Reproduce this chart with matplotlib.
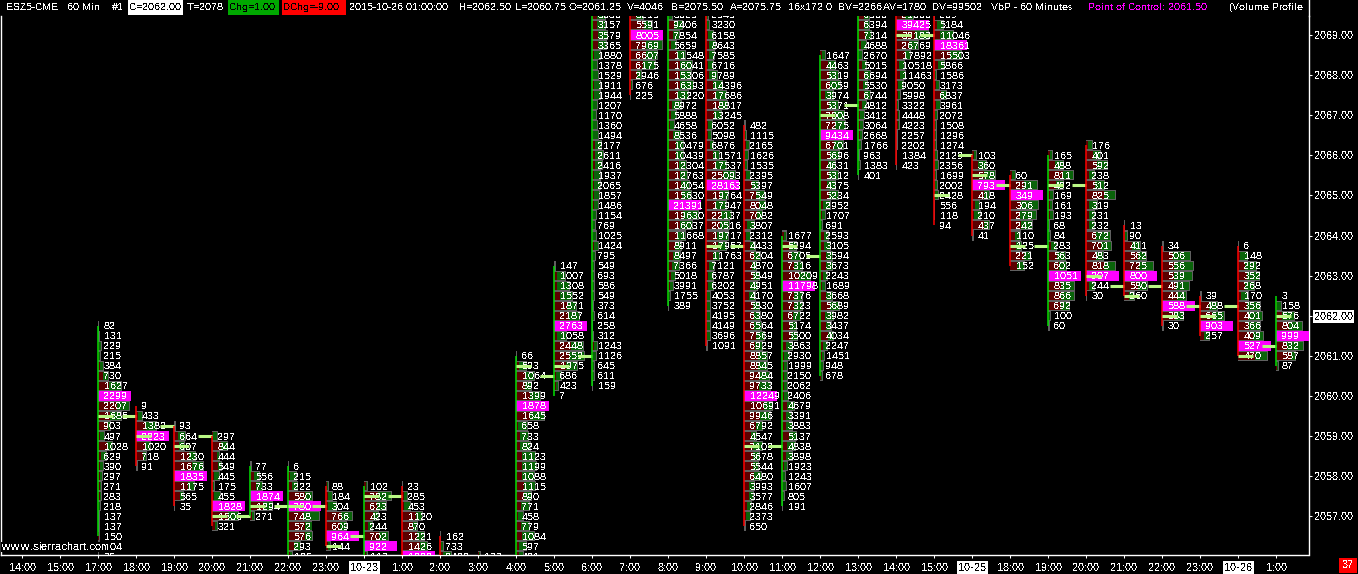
import matplotlib
matplotlib.use("Agg")
import matplotlib.pyplot as plt
from matplotlib.lines import Line2D
from matplotlib.patches import Rectangle

W, H = 1358, 574
PX_X = 38.0   # pixels per bar
PX_Y = 40.1   # pixels per point of price

bar_labels = ["14:00", "15:00", "17:00", "18:00", "19:00", "20:00", "21:00", "22:00", "23:00",
              "10-23", "1:00", "2:00", "3:00", "4:00", "5:00", "6:00", "7:00", "8:00", "9:00",
              "10:00", "11:00", "12:00", "13:00", "14:00", "15:00", "10-25", "18:00", "19:00",
              "20:00", "21:00", "22:00", "23:00", "10-26", "1:00"]
price_ticks = [2057, 2058, 2059, 2060, 2061, 2062, 2063, 2064, 2065, 2066, 2067, 2068, 2069]

# price of the first row of each bar
top_price = [None, None, 2061.75, 2059.75, 2059.25, 2059.0, 2058.25, 2058.25, 2057.75, 2057.75,
             2057.75, 2056.5, 2056.0, 2061.0, 2063.25, 2069.75, 2069.5, 2069.5, 2069.5, 2066.75,
             2064.0, 2068.5, 2069.75, 2069.5, 2069.5, 2066.0, 2065.5, 2066.0, 2066.25, 2064.25,
             2063.75, 2062.5, 2063.75, 2062.5]

# volume per price row, top to bottom, and the bid share of it in tenths
v02 = [82, 131, 229, 215, 384, 730, 1627, 2299, 2207, 1685, 903, 497, 1028, 629, 390, 297, 271, 283, 218, 137, 137, 150, 104, 35]
b02 = [5, 5, 5, 5, 3, 5, 5, 5, 6, 5, 8, 3, 6, 3, 3, 5, 5, 5, 5, 5, 5, 5, 5, 5]
v03 = [9, 433, 1382, 2223, 1020, 718, 91]
b03 = [5, 3, 5, 5, 6, 7, 5]
v04 = [93, 664, 607, 1230, 1676, 1835, 1175, 565, 35]
b04 = [5, 3, 5, 7, 6, 5, 7, 6, 5]
v05 = [297, 844, 444, 549, 445, 175, 455, 1828, 1506, 321]
b05 = [2, 6, 6, 6, 3, 5, 3, 5, 6, 5]
v06 = [77, 556, 733, 1874, 1294, 271]
b06 = [5, 4, 5, 5, 6, 5]
v07 = [6, 215, 222, 580, 780, 748, 572, 576, 293, 105]
b07 = [5, 2, 4, 7, 5, 5, 7, 7, 5, 5]
v08 = [88, 184, 304, 766, 609, 964, 144]
b08 = [5, 3, 2, 6, 7, 5, 5]
v09 = [102, 782, 623, 423, 244, 702, 922, 113]
b09 = [5, 5, 6, 6, 5, 6, 5, 5]
v10 = [23, 285, 453, 1120, 870, 1221, 1426, 1800]
b10 = [5, 3, 3, 7, 7, 7, 7, 5]
v11 = [162, 733, 2400, 6900]
b11 = [5, 3, 3, 5]
v12 = [133, 1500]
b12 = [5, 5]
v13 = [66, 593, 1064, 892, 1399, 1878, 1645, 658, 733, 824, 1123, 1199, 1088, 1115, 890, 771, 458, 779, 1084, 597, 421]
b13 = [5, 3, 5, 6, 6, 5, 5, 2, 3, 3, 3, 3, 3, 4, 5, 4, 3, 4, 3, 3, 5]
v14 = [147, 1007, 1308, 1552, 1871, 2187, 2763, 1058, 2448, 2559, 1975, 686, 423, 7]
b14 = [5, 2, 2, 3, 6, 6, 5, 2, 6, 5, 5, 2, 3, 5]
v15 = [7500, 3030, 3157, 3579, 3365, 1880, 1378, 1529, 1911, 1944, 1207, 1170, 1360, 1494, 2177, 2611, 2416, 1937, 2065,
       1857, 1486, 1154, 769, 1025, 1424, 795, 549, 693, 586, 549, 373, 614, 258, 312, 1243, 1126, 645, 611, 159]
b15 = [5, 4, 4, 4, 4, 2, 2, 2, 2, 2, 2, 2, 2, 2, 3, 3, 3, 2, 2,
       2, 3, 2, 2, 2, 3, 2, 3, 3, 3, 3, 3, 3, 3, 3, 3, 3, 3, 3, 3]
v16 = [3215, 5591, 8005, 7969, 6607, 6175, 2946, 676, 225]
b16 = [5, 6, 5, 5, 6, 5, 6, 3, 5]
v17 = [3025, 9406, 7854, 5659, 11548, 16041, 15306, 16393, 13220, 8972, 5888, 4658, 8536, 10479, 10439, 12304, 12763, 14054,
       15630, 21391, 19630, 16037, 11668, 8911, 8497, 7366, 5018, 3991, 1755, 389]
b17 = [3, 4, 4, 4, 5, 5, 5, 5, 5, 3, 3, 3, 4, 5, 5, 6, 6, 6,
       6, 5, 5, 5, 5, 5, 4, 4, 4, 4, 3, 5]
v18 = [2545, 3230, 6158, 8643, 7585, 6716, 9789, 14396, 17686, 18817, 13245, 6052, 5098, 6876, 11571, 17537, 25093, 28163,
       19764, 17947, 22137, 20516, 19717, 17957, 11763, 7121, 6787, 6202, 4053, 3752, 4195, 4149, 3696, 1091]
b18 = [5, 3, 3, 3, 3, 3, 3, 4, 5, 6, 5, 2, 4, 5, 5, 5, 6, 5,
       6, 5, 6, 6, 5, 6, 5, 4, 3, 3, 3, 3, 3, 3, 3, 5]
v19 = [482, 1115, 2165, 1626, 1535, 2395, 5397, 7549, 8048, 7082, 3807, 2312, 4433, 6204, 4870, 5849, 4951, 4170, 5830, 6380,
       6564, 7569, 6929, 8857, 8845, 9484, 9733, 12249, 10691, 9946, 6792, 4547, 7109, 5678, 5544, 6480, 3993, 3577, 2846, 2373, 650]
b19 = [5, 5, 3, 3, 3, 3, 6, 6, 7, 7, 3, 3, 5, 6, 6, 6, 5, 5, 6, 6,
       6, 6, 6, 6, 6, 6, 6, 5, 7, 6, 7, 6, 5, 6, 6, 6, 5, 5, 4, 3, 5]
v20 = [1677, 5294, 6705, 7316, 10209, 11798, 7376, 7323, 6722, 5174, 5500, 3863, 2930, 1999, 2150, 2062, 2406, 4679, 3391,
       3883, 5137, 4838, 3898, 1923, 1243, 1607, 805, 191]
b20 = [4, 5, 5, 6, 6, 5, 6, 6, 6, 6, 6, 4, 3, 3, 3, 3, 3, 4, 4,
       4, 5, 4, 4, 3, 3, 3, 5, 5]
v21 = [1647, 4463, 5319, 6059, 3974, 5371, 7008, 7275, 9434, 6701, 5696, 4631, 5312, 4375, 5234, 2952, 1707, 691, 2593, 3105,
       3594, 3673, 2243, 1689, 3668, 5689, 3982, 3437, 4034, 2247, 1451, 948, 678]
b21 = [4, 5, 5, 5, 4, 5, 6, 6, 5, 6, 5, 5, 5, 5, 5, 3, 3, 5, 4, 4,
       5, 5, 4, 3, 5, 5, 4, 5, 6, 4, 3, 5, 5]
v22 = [18000, 6500, 6394, 7314, 4688, 2670, 5015, 6694, 5530, 6744, 4812, 3412, 3064, 2668, 1766, 963, 1383, 401]
b22 = [5, 5, 5, 5, 4, 3, 4, 5, 5, 5, 5, 3, 4, 4, 3, 5, 5, 5]
v23 = [21000, 39425, 39183, 26769, 17892, 10518, 11463, 9050, 5998, 3322, 4448, 4223, 2257, 2202, 1384, 423]
b23 = [5, 5, 6, 6, 6, 4, 4, 3, 4, 5, 5, 5, 5, 5, 5, 5]
v24 = [209, 5184, 11046, 18361, 15503, 5866, 1586, 3173, 6837, 3961, 2072, 1508, 1296, 1274, 2129, 2356, 1699, 2002, 2428, 556, 118, 94]
b24 = [5, 3, 3, 5, 6, 4, 3, 3, 6, 3, 3, 5, 5, 5, 3, 3, 3, 3, 3, 5, 5, 5]
v25 = [103, 360, 578, 793, 418, 194, 210, 437, 41]
b25 = [5, 4, 5, 5, 7, 4, 2, 7, 5]
v26 = [60, 291, 349, 306, 279, 242, 110, 125, 221, 152]
b26 = [3, 5, 5, 4, 4, 5, 5, 5, 7, 5]
v27 = [165, 488, 811, 492, 169, 161, 193, 68, 84, 283, 563, 602, 1051, 835, 866, 692, 100, 60]
b27 = [3, 5, 6, 5, 3, 3, 3, 5, 5, 3, 5, 6, 5, 5, 5, 6, 5, 5]
v28 = [176, 401, 592, 238, 512, 825, 319, 231, 232, 672, 701, 483, 818, 907, 244, 30]
b28 = [3, 5, 5, 3, 5, 6, 3, 3, 3, 4, 6, 6, 6, 5, 3, 5]
v29 = [13, 90, 411, 562, 725, 800, 580, 260]
b29 = [5, 3, 5, 6, 5, 5, 6, 5]
v30 = [34, 506, 556, 539, 491, 444, 588, 383, 30]
b30 = [5, 4, 4, 4, 5, 6, 5, 6, 5]
v31 = [39, 488, 665, 903, 257]
b31 = [5, 5, 5, 5, 5]
v32 = [6, 148, 292, 352, 268, 170, 356, 401, 366, 409, 527, 470]
b32 = [5, 2, 4, 4, 4, 3, 4, 4, 5, 6, 5, 6]
v33 = [3, 158, 576, 804, 999, 832, 587, 87]
b33 = [5, 2, 3, 5, 5, 4, 8, 5]

volumes = [[], [], v02, v03, v04, v05, v06, v07, v08, v09, v10, v11, v12, v13, v14, v15, v16, v17,
           v18, v19, v20, v21, v22, v23, v24, v25, v26, v27, v28, v29, v30, v31, v32, v33]
bids = [[], [], b02, b03, b04, b05, b06, b07, b08, b09, b10, b11, b12, b13, b14, b15, b16, b17,
        b18, b19, b20, b21, b22, b23, b24, b25, b26, b27, b28, b29, b30, b31, b32, b33]

# open/close body per bar: upper price, lower price, direction
body_hi = [None, None, 2061.75, 2059.75, 2059.25, 2059.0, 2058.25, 2058.25, 2057.75, 2057.75, 2057.75, 2056.5, None,
           2061.0, 2063.25, 2069.5, 2069.5, 2069.5, 2069.5, 2066.75, 2064.0, 2068.5, 2069.5, 2069.5, 2069.5,
           2066.0, 2065.5, 2066.0, 2066.25, 2064.25, 2063.75, 2062.5, 2063.75, 2062.5]
body_lo = [None, None, 2056.5, 2058.25, 2057.25, 2056.75, 2057.0, 2056.0, 2056.25, 2056.0, 2056.0, 2056.0, None,
           2056.0, 2060.0, 2060.25, 2067.5, 2062.25, 2061.25, 2056.75, 2057.25, 2060.5, 2065.5, 2065.75, 2064.25,
           2064.0, 2063.25, 2061.75, 2062.5, 2062.5, 2061.75, 2061.5, 2061.0, 2060.75]
body_up = [0, 0, 1, 0, 0, 0, 1, 1, 0, 1, 0, 0, 0, 1, 1, 1, 0, 1, 0, 0, 1, 1, 1, 0, 0, 0, 0, 1, 0, 0, 0, 0, 0, 1]

# short lime marks at the start and the end of each bar
mark_start = [None, None, 2059.5, 2059.0, 2058.75, 2057.0, 2057.25, 2057.25, 2056.25, 2057.5, None, None, None,
              2060.75, 2060.75, None, None, None, 2063.75, 2058.75, 2063.75, 2067.0, None, 2069.0, 2065.0,
              2065.5, 2063.75, 2065.25, 2063.0, 2062.5, 2062.0, 2062.0, 2061.0, 2062.0]
mark_end = [None, None, 2059.5, 2059.25, 2059.0, 2057.0, 2057.25, 2057.25, 2056.5, 2057.5, None, None, None,
            2060.5, 2061.0, None, None, None, 2063.75, 2058.75, 2063.5, 2067.25, None, 2069.0, 2066.0,
            2065.25, 2063.75, 2065.25, 2062.75, 2062.75, 2062.25, 2062.25, 2061.25, None]

# header strip: text, left pixel, colour
header_items = [("ESZ5-CME", 6.5, "white"), ("60 Min", 67, "white"), ("#1", 112, "white"),
                ("C=2062.00", 129, "black"), ("T=2078", 186.5, "white"), ("Chg=1.00", 229, "black"),
                ("DChg=-9.00", 283, "black"), ("2015-10-26 01:00:00", 349.5, "white"),
                ("H=2062.50", 459.7, "white"), ("L=2060.75", 514.7, "white"), ("O=2061.25", 569, "white"),
                ("V=4046", 626.6, "white"), ("B=2075.50", 671.5, "white"), ("A=2075.75", 730, "white"),
                ("16x172", 788, "white"), ("0", 826, "white"), ("BV=2266", 838, "white"),
                ("AV=1780", 883, "white"), ("DV=99502", 932, "white"), ("VbP - 60 Minutes", 991, "white"),
                ("Point of Control: 2061.50", 1088.5, "#ff00ff"), ("(Volume Profile", 1228.6, "white")]
header_boxes = [(128, 183, "white"), (228, 279, "#00a800"), (282, 346, "#ff0000")]

plt.rcParams["font.family"] = ["Liberation Sans", "DejaVu Sans"]
plt.rcParams["text.antialiased"] = False
plt.rcParams["text.hinting"] = "native"
plt.rcParams["text.hinting_factor"] = 1

GRAY = "#606060"
DARK_RED = "#5c0000"
DARK_GREEN = "#0a640a"
MAGENTA = "#ff00ff"
LIME = "#b9f884"
FS = 7.5

fig = plt.figure(figsize=(W / 100, H / 100), dpi=100, facecolor="black")
left, right, top, bottom = 1, 1308.5, 15.5, 554.5
ax = fig.add_axes([left / W, 1 - bottom / H, (right - left) / W, (bottom - top) / H], facecolor="black")
ax.set_xlim((left - 22.3) / PX_X, (right - 22.3) / PX_X)
ax.set_ylim(2062 - (bottom - 315.7) / PX_Y, 2062 + (315.7 - top) / PX_Y)

POC_W = 33 / PX_X
ROW = 0.25
INNER = 8 / PX_Y
for i, (vols, shares) in enumerate(zip(volumes, bids)):
    assert len(vols) == len(shares), (i, len(vols), len(shares))
    if not vols:
        continue
    peak = max(vols)
    for r, (vol, share) in enumerate(zip(vols, shares)):
        p = top_price[i] - r * ROW
        w = POC_W * vol / peak
        if vol == peak:
            ax.add_patch(Rectangle((i, p - ROW / 2), w, ROW, fc=MAGENTA, lw=0, aa=False, zorder=3))
        else:
            ax.add_patch(Rectangle((i, p - ROW / 2), w, ROW, fc=GRAY, lw=0, aa=False, zorder=2))
            inner_w = max(w - 1 / PX_X, 0)
            if inner_w > 1 / PX_X:
                bid_w = inner_w * share / 10
                ax.add_patch(Rectangle((i, p - INNER / 2), bid_w, INNER, fc=DARK_RED, lw=0, aa=False, zorder=3))
                ax.add_patch(Rectangle((i + bid_w, p - INNER / 2), inner_w - bid_w, INNER, fc=DARK_GREEN,
                                       lw=0, aa=False, zorder=3))
        ax.text(i + 5.3 / PX_X, p, str(vol), color="white", fontsize=FS, va="center_baseline", ha="left",
                clip_on=True, zorder=5)

for i in range(len(bar_labels)):
    if body_hi[i] is not None:
        ax.plot([i, i], [body_lo[i], body_hi[i]], color="#00e000" if body_up[i] else "#ff0000",
                lw=1.1, solid_capstyle="butt", zorder=6)
    if mark_start[i] is not None:
        ax.plot([i, i + 15 / PX_X], [mark_start[i], mark_start[i]], color=LIME, lw=2.2,
                solid_capstyle="butt", zorder=6)
    if mark_end[i] is not None:
        ax.plot([i + 1 - 14.5 / PX_X, i + 1], [mark_end[i], mark_end[i]], color=LIME, lw=2.2,
                solid_capstyle="butt", zorder=6)

ax.text(0, 0.0139, "www.sierrachart.com", transform=ax.transAxes, color="white", fontsize=7.6, va="center",
        ha="left", zorder=8, bbox=dict(fc="black", ec="none", pad=0), clip_on=True)

ax.yaxis.tick_right()
ax.set_yticks(price_ticks, [f"{p:.2f}" for p in price_ticks])
ax.set_xticks(range(len(bar_labels)), bar_labels)
ax.tick_params(axis="both", colors="white", length=2.5, width=0.75, labelsize=7.6, pad=1.5)
ax.tick_params(axis="x", pad=3.5)
ax.spines["top"].set_visible(False)
for side in ["left", "right", "bottom"]:
    ax.spines[side].set_color("white")
    ax.spines[side].set_linewidth(1.0)
for lab in ax.get_xticklabels():
    if "-" in lab.get_text():
        lab.set_color("black")
        lab.set_bbox(dict(fc="white", ec="none", pad=1.0))
for lab in ax.get_yticklabels():
    if lab.get_text() == "2062.00":
        lab.set_color("black")
        lab.set_bbox(dict(fc="white", ec="none", pad=1.0))

fig.add_artist(Line2D([right / W, right / W], [1 - top / H, 1], color="white", lw=1.0))
for x0, x1, colour in header_boxes:
    fig.add_artist(Rectangle((x0 / W, 1 - 15 / H), (x1 - x0) / W, 15 / H, fc=colour, lw=0, transform=fig.transFigure))
for text, x, colour in header_items:
    fig.text(x / W, 1 - 7.5 / H, text, color=colour, fontsize=7.2, va="center", ha="left")

fig.add_artist(Rectangle((1339 / W, 1 - 573 / H), 18 / W, 15 / H, fc="#ff0000", lw=0, transform=fig.transFigure))
fig.text(1348 / W, 1 - 565.5 / H, "37", color="white", fontsize=7.6, va="center", ha="center")

fig.savefig("out.png", dpi=100, facecolor="black")
